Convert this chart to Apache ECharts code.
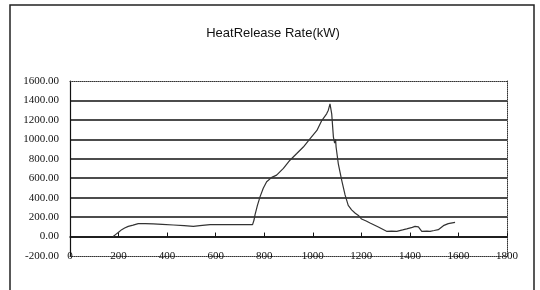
<!DOCTYPE html>
<html>
<head>
<meta charset="utf-8">
<script src="https://cdn.jsdelivr.net/npm/echarts@6/dist/echarts.min.js"></script>
<style>
  html, body { margin: 0; padding: 0; background: #fff; }
  #heatChart { width: 540px; height: 290px; }
</style>
</head>
<body>
<div id="heatChart"></div>
<script>
// time (s) and heat release rate (kW)
const timeSec = [
  178, 190, 200, 213, 225, 240, 260, 281, 310, 343, 380, 426, 470, 508, 535,
  577, 620, 673, 720, 752, 758, 762, 772, 783, 796, 810, 831, 851, 879, 906,
  934, 961, 989, 1017, 1037, 1057, 1064, 1071, 1078, 1085, 1090, 1094, 1096,
  1105, 1119, 1133, 1146, 1160, 1175, 1188, 1201, 1220, 1236, 1270, 1304,
  1325, 1346, 1370, 1387, 1410, 1421, 1435, 1449, 1470, 1483, 1500, 1517,
  1538, 1558, 1586
];
const heatRelease = [
  0, 25, 45, 71, 88, 105, 118, 133, 132, 130, 126, 119, 112, 105, 112,
  122, 124, 122, 123, 122, 170, 224, 320, 411, 497, 564, 609, 632, 701, 785,
  854, 921, 1007, 1091, 1193, 1262, 1300, 1364, 1262, 1023, 960, 1000, 921,
  751, 581, 428, 320, 275, 240, 217, 180, 160, 140, 99, 54,
  55, 54, 68, 79, 95, 105, 99, 54, 56, 54, 62, 71,
  112, 133, 146
];
const yMin = -200;
const yMax = 1600;
const yStep = 200;
const xMax = 1800;
const xStep = 200;

const titleText = "HeatRelease Rate(kW)";

let chart = echarts.init(document.getElementById("heatChart"));

const labelFont = "'Liberation Serif', 'Times New Roman', serif";
const titleFont = "'Liberation Sans', Arial, sans-serif";

chart.setOption({
  animation: false,
  backgroundColor: "#fff",
  grid: {
    left: 70,
    right: 33,
    top: 81,
    bottom: 34,
  },
  graphic: [
    {
      // outer chart frame
      type: "rect",
      shape: { x: 10, y: 5, width: 524, height: 300 },
      style: { fill: "none", stroke: "#222", lineWidth: 1.5 },
      silent: true,
    },
    {
      type: "text",
      x: 273,
      y: 33,
      style: {
        text: titleText,
        font: "13px " + titleFont,
        fill: "#111",
        textAlign: "center",
        textVerticalAlign: "middle",
      },
      silent: true,
    },
  ],
  xAxis: [
    {
      // labels sitting on the dotted bottom border
      type: "value",
      position: "bottom",
      min: 0,
      max: xMax,
      interval: xStep,
      axisLine: {
        show: true,
        onZero: false,
        lineStyle: { color: "#333", type: "dotted", width: 1 },
      },
      axisTick: { show: false },
      splitLine: { show: false },
      axisLabel: {
        margin: 0,
        verticalAlign: "middle",
        showMinLabel: true,
        showMaxLabel: true,
        color: "#111",
        fontSize: 11,
        fontFamily: labelFont,
        formatter: (v) => String(v),
      },
    },
    {
      // axis line at zero with small upward ticks
      type: "value",
      position: "top",
      min: 0,
      max: xMax,
      interval: xStep,
      axisLine: {
        show: true,
        onZero: true,
        lineStyle: { color: "#111", width: 1.5 },
      },
      axisTick: { show: true, inside: false, length: 4, lineStyle: { color: "#111" } },
      axisLabel: { show: false },
      splitLine: { show: false },
    },
    {
      // dotted top border
      type: "value",
      position: "top",
      min: 0,
      max: xMax,
      axisLine: {
        show: true,
        onZero: false,
        lineStyle: { color: "#333", type: "dotted", width: 1 },
      },
      axisTick: { show: false },
      axisLabel: { show: false },
      splitLine: { show: false },
    },
  ],
  yAxis: [
    {
      type: "value",
      position: "left",
      min: yMin,
      max: yMax,
      interval: yStep,
      axisLine: { show: true, onZero: false, lineStyle: { color: "#111", width: 1.2 } },
      axisTick: { show: false },
      axisLabel: {
        margin: 11,
        color: "#111",
        fontSize: 11,
        fontFamily: labelFont,
        formatter: (v) => v.toFixed(2),
      },
      splitLine: {
        show: true,
        showMinLine: false,
        showMaxLine: false,
        lineStyle: { color: "#111", width: 1.5 },
      },
    },
    {
      // dotted right border
      type: "value",
      position: "right",
      min: yMin,
      max: yMax,
      interval: yStep,
      axisLine: { show: true, onZero: false, lineStyle: { color: "#333", type: "dotted", width: 1 } },
      axisTick: { show: false },
      axisLabel: { show: false },
      splitLine: { show: false },
    },
  ],
  series: [
    {
      type: "line",
      xAxisIndex: 0,
      yAxisIndex: 0,
      showSymbol: false,
      lineStyle: { color: "#333", width: 1.2 },
      data: timeSec.map((t, i) => [t, heatRelease[i]]),
      z: 5,
    },
  ],
});
</script>
</body>
</html>
